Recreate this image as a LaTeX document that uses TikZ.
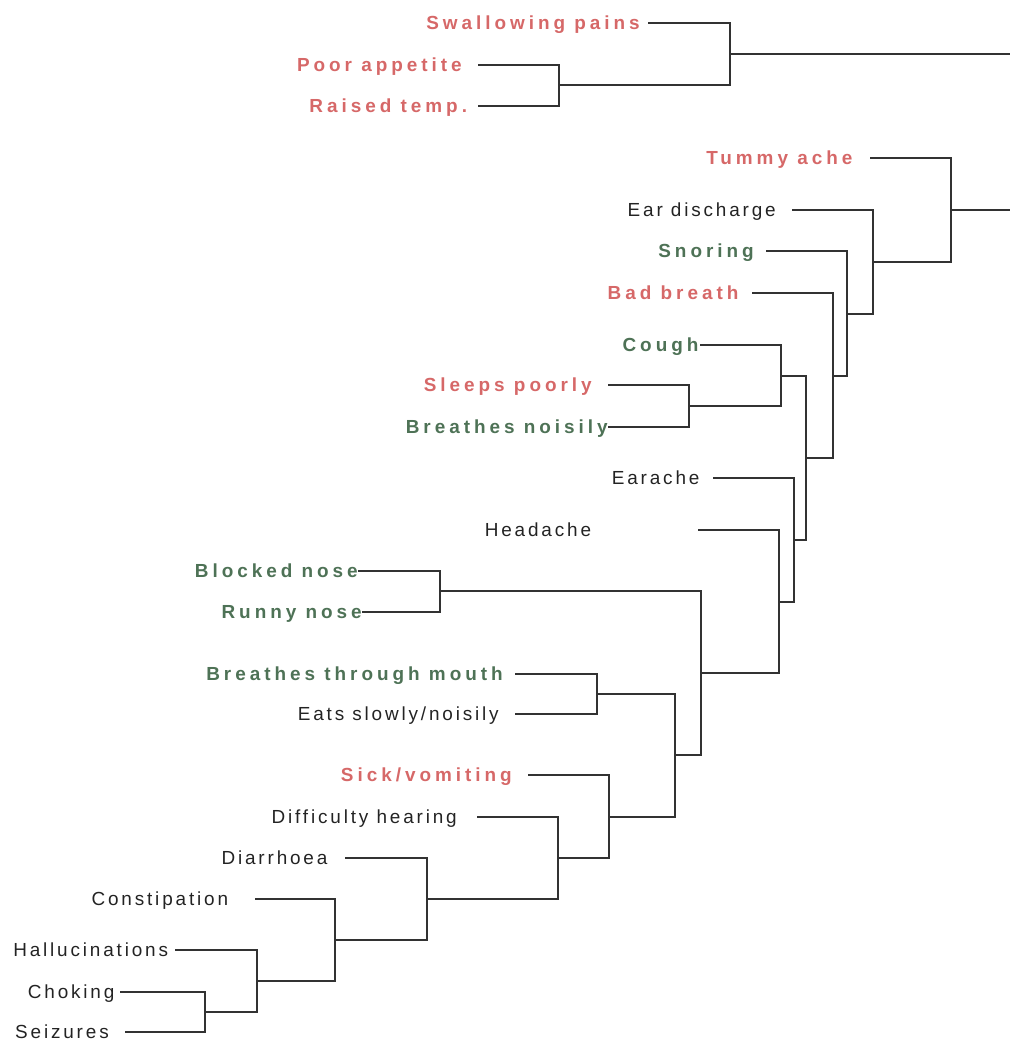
\documentclass[tikz,border=0pt]{standalone}
\usepackage{fontspec}
\setmainfont{Liberation Sans}
\newfontfamily\symfont[LetterSpace=15, BoldFeatures={LetterSpace=21}]{Liberation Sans}
\usetikzlibrary{positioning}

\definecolor{symred}{RGB}{214,104,104}
\definecolor{symgreen}{RGB}{78,114,86}
\definecolor{symblack}{RGB}{35,35,35}
\definecolor{linegray}{RGB}{50,50,50}

\begin{document}
\begin{tikzpicture}[
    x=0.75pt, y=-0.75pt,
    sym/.style={anchor=east, inner ysep=0pt, inner xsep=9pt, text height=10.2pt, text depth=0pt,
                font=\symfont\fontsize{14.2}{16}\selectfont, text=symblack},
    redsym/.style={sym, text=symred, font=\symfont\fontsize{14.2}{16}\selectfont\bfseries},
    greensym/.style={sym, text=symgreen, font=\symfont\fontsize{14.2}{16}\selectfont\bfseries},
    link/.style={draw=linegray, line width=1.1pt}
]
\useasboundingbox (0,0) rectangle (1010,1044);

% symptom labels (anchored at the start of their branch)
\node[redsym, inner xsep=6pt]   (swallow)   at (648,23)   {Swallowing pains};
\node[redsym, inner xsep=12pt]  (appetite)  at (478,65)   {Poor appetite};
\node[redsym, inner xsep=8pt]   (rtemp)     at (478,106)  {Raised temp.};
\node[redsym, inner xsep=13pt]  (tummy)     at (870,158)  {Tummy ache};
\node[sym, inner xsep=12pt]     (eardis)    at (792,210)  {Ear discharge};
\node[greensym]                 (snoring)   at (766,251)  {Snoring};
\node[redsym, inner xsep=10pt]  (badbreath) at (752,293)  {Bad breath};
\node[greensym, inner xsep=1pt] (cough)     at (700,345)  {Cough};
\node[redsym, inner xsep=12pt]  (sleeps)    at (608,385)  {Sleeps poorly};
\node[greensym, inner xsep=0pt] (noisily)   at (608,427)  {Breathes noisily};
\node[sym, inner xsep=10pt]     (earache)   at (713,478)  {Earache};
\node[sym, inner xsep=80pt]     (headache)  at (698,530)  {Headache};
\node[greensym, inner xsep=0pt] (blocked)   at (358,571)  {Blocked nose};
\node[greensym, inner xsep=0pt] (runny)     at (362,612)  {Runny nose};
\node[greensym]                 (mouth)     at (515,674)  {Breathes through mouth};
\node[sym, inner xsep=12pt]     (eats)      at (515,714)  {Eats slowly/noisily};
\node[redsym, inner xsep=12pt]  (sick)      at (528,775)  {Sick/vomiting};
\node[sym, inner xsep=15pt]     (hearing)   at (477,817)  {Difficulty hearing};
\node[sym, inner xsep=13pt]     (diarrhoea) at (345,858)  {Diarrhoea};
\node[sym, inner xsep=20pt]     (constip)   at (255,899)  {Constipation};
\node[sym, inner xsep=5pt]      (halluc)    at (175,950)  {Hallucinations};
\node[sym, inner xsep=4pt]      (choking)   at (120,992)  {Choking};
\node[sym, inner xsep=12pt]     (seizures)  at (125,1032) {Seizures};

% merge points
\coordinate (c1)  at (205,1012);
\coordinate (c2)  at (257,981);
\coordinate (c3)  at (335,940);
\coordinate (c4)  at (427,899);
\coordinate (c5)  at (558,858);
\coordinate (c6)  at (609,817);
\coordinate (c7)  at (597,694);
\coordinate (c8)  at (675,755);
\coordinate (c9)  at (440,591);
\coordinate (c10) at (701,673);
\coordinate (c11) at (779,602);
\coordinate (c12) at (794,540);
\coordinate (c13) at (689,406);
\coordinate (c14) at (781,376);
\coordinate (c15) at (806,458);
\coordinate (c16) at (833,376);
\coordinate (c17) at (847,314);
\coordinate (c18) at (873,262);
\coordinate (c19) at (951,210);
\coordinate (c20) at (559,85);
\coordinate (c21) at (730,54);
\coordinate (topend) at (1010,54);
\coordinate (lowend) at (1010,210);

% upper cluster
\draw[link] (appetite) -| (c20) |- (rtemp);
\draw[link] (swallow) -| (c21) |- (c20);
\draw[link] (c21) -- (topend);

% lower cluster
\draw[link] (choking) -| (c1) |- (seizures);
\draw[link] (halluc) -| (c2) |- (c1);
\draw[link] (constip) -| (c3) |- (c2);
\draw[link] (diarrhoea) -| (c4) |- (c3);
\draw[link] (hearing) -| (c5) |- (c4);
\draw[link] (sick) -| (c6) |- (c5);
\draw[link] (mouth) -| (c7) |- (eats);
\draw[link] (c7) -| (c8) |- (c6);
\draw[link] (blocked) -| (c9) |- (runny);
\draw[link] (c9) -| (c10) |- (c8);
\draw[link] (headache) -| (c11) |- (c10);
\draw[link] (earache) -| (c12) |- (c11);
\draw[link] (sleeps) -| (c13) |- (noisily);
\draw[link] (cough) -| (c14) |- (c13);
\draw[link] (c14) -| (c15) |- (c12);
\draw[link] (badbreath) -| (c16) |- (c15);
\draw[link] (snoring) -| (c17) |- (c16);
\draw[link] (eardis) -| (c18) |- (c17);
\draw[link] (tummy) -| (c19) |- (c18);
\draw[link] (c19) -- (lowend);
\end{tikzpicture}
\end{document}
